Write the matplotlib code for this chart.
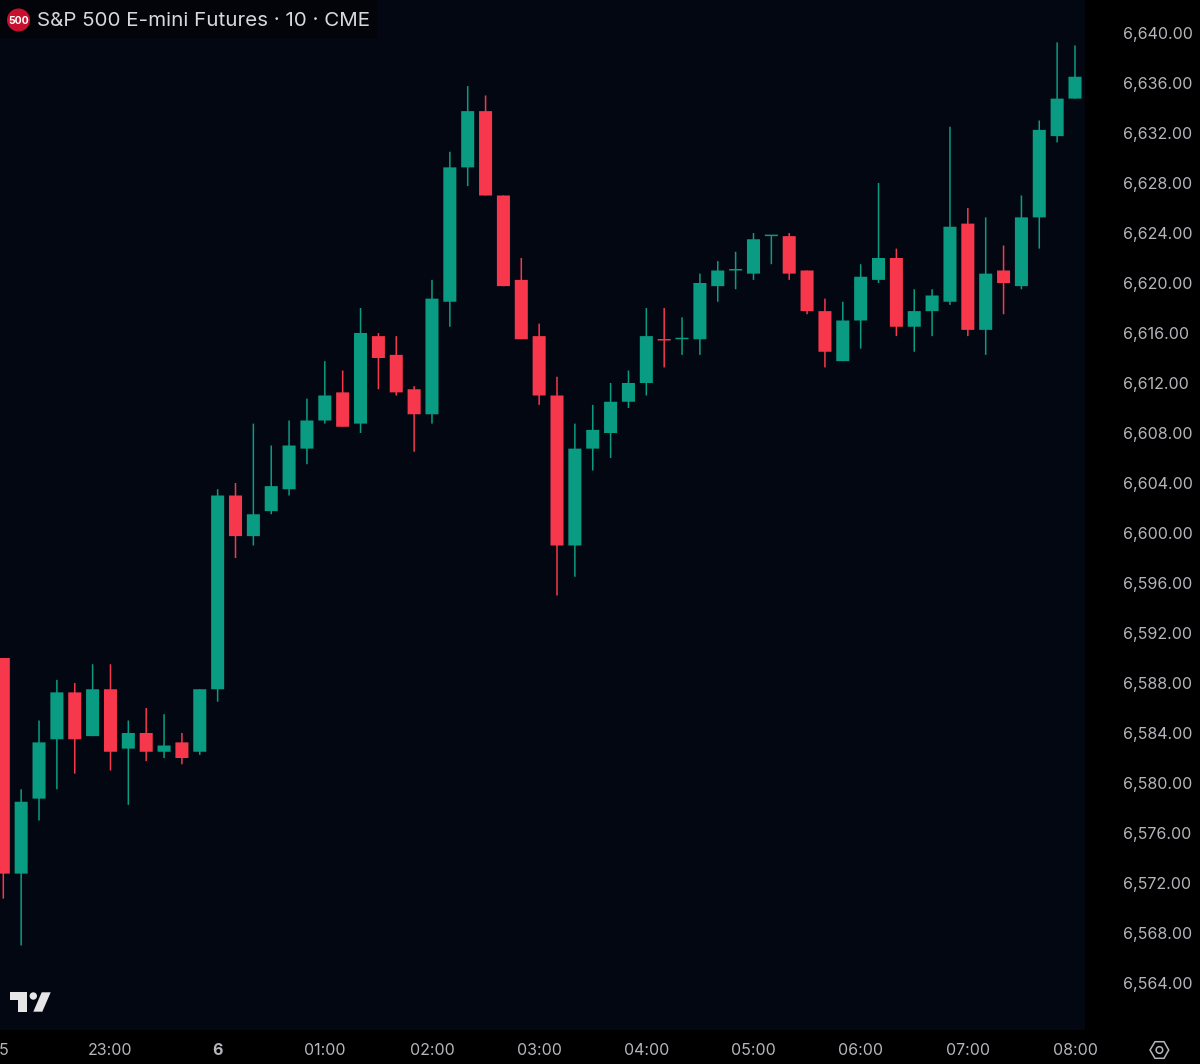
import numpy as np
import matplotlib
matplotlib.use("Agg")
import matplotlib.pyplot as plt
from matplotlib.patches import Circle, Polygon, Rectangle

# 10 min bars, 61 of them, last one is 08:00
opens = [6590, 6572.75, 6578.75, 6583.5, 6587.25, 6583.75, 6587.5, 6582.75, 6584, 6582.5,
         6583.25, 6582.5, 6587.5, 6603, 6599.75, 6601.75, 6603.5, 6606.75, 6609, 6611.25,
         6608.75, 6615.75, 6614.25, 6611.5, 6609.5, 6618.5, 6629.25, 6633.75, 6627, 6620.25,
         6615.75, 6611, 6599, 6606.75, 6608, 6610.5, 6612, 6615.5, 6615.5, 6615.5,
         6619.75, 6621, 6620.75, 6623.75, 6623.75, 6621, 6617.75, 6613.75, 6617, 6620.25,
         6622, 6616.5, 6617.75, 6618.5, 6624.75, 6616.25, 6621, 6619.75, 6625.25, 6631.75,
         6634.75]
highs = [6590, 6579.5, 6585, 6588.25, 6588, 6589.5, 6589.5, 6585, 6586, 6585.5,
         6584, 6587.5, 6603.5, 6604, 6608.75, 6607, 6609, 6610.75, 6613.75, 6613,
         6618, 6616, 6615.75, 6611.75, 6620.25, 6630.5, 6635.75, 6635, 6627, 6622,
         6616.75, 6612.5, 6608.75, 6610.25, 6612, 6613, 6618, 6618, 6617.25, 6620.75,
         6621.75, 6622.5, 6624, 6623.75, 6624, 6621, 6618.75, 6618.5, 6621.5, 6628,
         6622.75, 6619.5, 6619.5, 6632.5, 6626, 6625.25, 6623, 6627, 6633, 6639.25,
         6639]
lows = [6570.75, 6567, 6577, 6579.5, 6580.75, 6583.75, 6581, 6578.25, 6581.75, 6582,
        6581.5, 6582.25, 6586.5, 6598, 6599, 6601.5, 6603, 6605.5, 6608.75, 6608.5,
        6608, 6611.5, 6611, 6606.5, 6608.75, 6616.5, 6627.75, 6627, 6619.75, 6615.5,
        6610.25, 6595, 6596.5, 6605, 6606, 6610, 6611, 6613.25, 6614.25, 6614.25,
        6618.5, 6619.5, 6620.25, 6621.5, 6620.25, 6617.5, 6613.25, 6613.75, 6614.75, 6620,
        6615.75, 6614.5, 6615.75, 6618.25, 6615.75, 6614.25, 6617.5, 6619.5, 6622.75, 6631.25,
        6634.75]
closes = [6572.75, 6578.5, 6583.25, 6587.25, 6583.5, 6587.5, 6582.5, 6584, 6582.5, 6583,
          6582, 6587.5, 6603, 6599.75, 6601.5, 6603.75, 6607, 6609, 6611, 6608.5,
          6616, 6614, 6611.25, 6609.5, 6618.75, 6629.25, 6633.75, 6627, 6619.75, 6615.5,
          6611, 6599, 6606.75, 6608.25, 6610.5, 6612, 6615.75, 6615.4, 6615.5, 6620,
          6621, 6621, 6623.5, 6623.75, 6620.75, 6617.75, 6614.5, 6617, 6620.5, 6622,
          6616.5, 6617.75, 6619, 6624.5, 6616.25, 6620.75, 6620, 6625.25, 6632.25, 6634.75,
          6636.5]

price_ticks = list(range(6564, 6641, 4))
time_ticks = [0, 6, 12, 18, 24, 30, 36, 42, 48, 54, 60]
time_labels = ["5", "23:00", "6", "01:00", "02:00", "03:00", "04:00", "05:00", "06:00", "07:00", "08:00"]

bg = "#030712"
up = "#0a9c82"
down = "#f7374b"
txt = "#b4b6bb"

plt.rcParams["font.family"] = ["Inter", "DejaVu Sans"]

fig = plt.figure(figsize=(12, 10.64), dpi=100, facecolor="#000000")
ax = fig.add_axes([0, 34 / 1064, 1085 / 1200, 1030 / 1064], facecolor=bg)

x = np.arange(len(closes))
o = np.array(opens)
c = np.array(closes)
colors = [up if c[i] >= o[i] else down for i in x]

wicks = ax.vlines(x, lows, highs, colors=colors, linewidth=1.1, zorder=2)
wicks.set_snap(False)
bottoms = np.minimum(o, c)
heights = np.maximum(np.abs(c - o), 0.12)
bars = ax.bar(x, heights, bottom=bottoms, width=0.73, color=colors, linewidth=0, zorder=3)
for b in bars:
    b.set_snap(False)

ax.set_xlim(-0.185, 60.56)
ax.set_ylim(6560.24, 6642.64)

ax.yaxis.tick_right()
ax.set_yticks(price_ticks)
ax.set_yticklabels([f"{p:,.2f}" for p in price_ticks])
ax.set_xticks(time_ticks)
ax.set_xticklabels(time_labels)
ax.tick_params(axis="y", length=0, pad=27, labelsize=11.5, labelcolor=txt)
ax.tick_params(axis="x", length=0, pad=9.5, labelsize=11.5, labelcolor=txt)
ax.get_xticklabels()[2].set_fontweight("bold")
for s in ax.spines.values():
    s.set_visible(False)

# overlay in pixels for the legend, logo and settings icon
ov = fig.add_axes([0, 0, 1, 1])
ov.set_xlim(0, 1200)
ov.set_ylim(1064, 0)
ov.axis("off")

ov.add_patch(Rectangle((0, 0), 377, 38, facecolor="#02040a", linewidth=0))
ov.add_patch(Circle((18.5, 20), 11.5, facecolor="#c8102e", linewidth=0))
ov.text(18.5, 20.5, "500", color="white", fontsize=7.5, fontweight="bold", ha="center", va="center")
ov.text(37, 21.5, "S&P 500 E-mini Futures · 10 · CME", color="#d6d8dc", fontsize=14.8, ha="left", va="center")

# tradingview mark
logo = "#e6e6e6"
ov.add_patch(Polygon([(10.3, 992.3), (26.7, 992.3), (26.7, 1011.7), (18.3, 1011.7), (18.3, 1000), (10.3, 1000)],
                     facecolor=logo, linewidth=0))
ov.add_patch(Circle((33.3, 996), 3.7, facecolor=logo, linewidth=0))
ov.add_patch(Polygon([(41.7, 992.3), (50.7, 992.3), (42.3, 1011.7), (33.3, 1011.7)], facecolor=logo, linewidth=0))

# settings icon
ov.add_patch(Polygon([(1150, 1050), (1155, 1041.7), (1164, 1041.7), (1168.7, 1050), (1164, 1058.3), (1155, 1058.3)],
                     fill=False, edgecolor=txt, linewidth=1.1))
ov.add_patch(Circle((1159.4, 1050), 3.3, fill=False, edgecolor=txt, linewidth=1.1))

fig.savefig("out.png", dpi=100, facecolor=fig.get_facecolor())
